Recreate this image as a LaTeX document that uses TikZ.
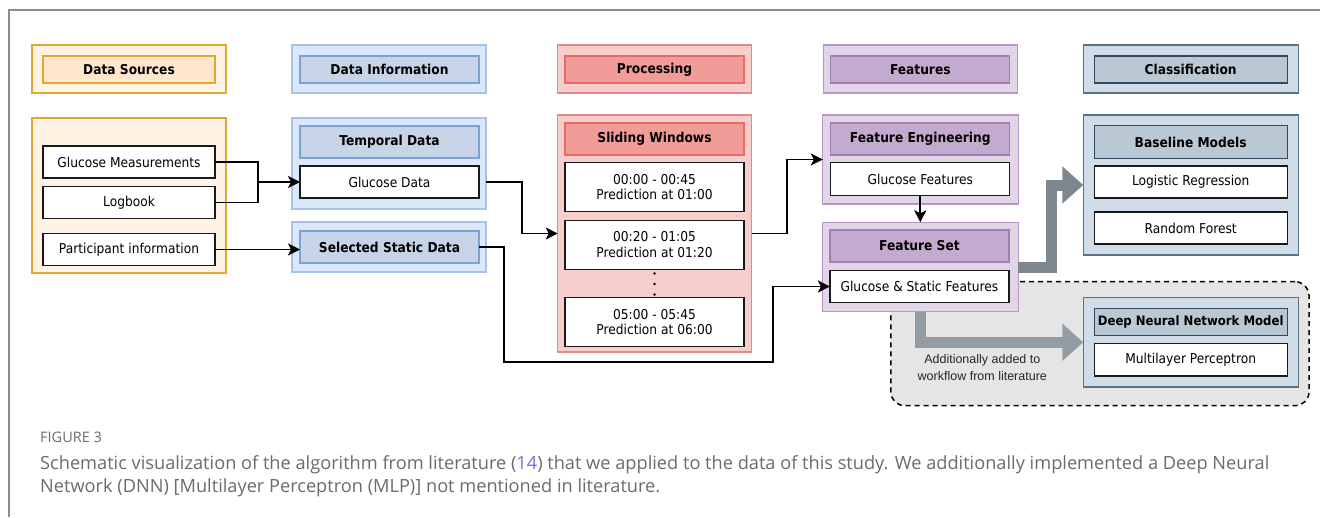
\documentclass[tikz,border=0pt]{standalone}
\usepackage{fontspec}
\setmainfont{DejaVu Sans}[FakeStretch=0.9]
\newfontfamily\labfont{Liberation Sans}
\newfontfamily\capfont{Open Sans}
\usetikzlibrary{arrows.meta}
\definecolor{orO}{HTML}{FFF3E6}\definecolor{orS}{HTML}{E3A62E}\definecolor{orI}{HTML}{FFE6CC}
\definecolor{blO}{HTML}{DAE8FC}\definecolor{blS}{HTML}{A7C1E8}\definecolor{blI}{HTML}{C7D3E7}\definecolor{blIS}{HTML}{7EA0D3}
\definecolor{rdO}{HTML}{F8CECC}\definecolor{rdS}{HTML}{E08A87}\definecolor{rdI}{HTML}{F19C99}\definecolor{rdIS}{HTML}{EA6B66}
\definecolor{puO}{HTML}{E1D5E7}\definecolor{puS}{HTML}{B598C6}\definecolor{puI}{HTML}{C3ABD0}\definecolor{puIS}{HTML}{A07FB3}
\definecolor{clO}{HTML}{D0DDE9}\definecolor{clS}{HTML}{5A7388}\definecolor{clI}{HTML}{BAC8D3}\definecolor{clIS}{HTML}{2F4A60}
\definecolor{gA}{HTML}{7F878E}\definecolor{gB}{HTML}{939CA3}
\definecolor{capgray}{HTML}{6B6B6B}\definecolor{linkc}{HTML}{7B6FD6}
\begin{document}
\begin{tikzpicture}[x=1pt,y=-1pt,
  font=\fontsize{13.6}{15.5}\selectfont,
  bx/.style={draw, line width=1.2pt, inner sep=0pt, outer sep=0pt, align=center},
  oO/.style={bx, fill=orO, draw=orS},
  oI/.style={bx, fill=orI, draw=orS},
  bO/.style={bx, fill=blO, draw=blS},
  bI/.style={bx, fill=blI, draw=blIS},
  rO/.style={bx, fill=rdO, draw=rdS},
  rI/.style={bx, fill=rdI, draw=rdIS},
  pO/.style={bx, fill=puO, draw=puS},
  pI/.style={bx, fill=puI, draw=puIS},
  cO/.style={bx, fill=clO, draw=clS},
  cI/.style={bx, fill=clI, draw=clIS},
  wb/.style={bx, fill=white, draw=black!90, line width=1.3pt},
  conn/.style={draw=black, line width=1.8pt},
  arr/.style={conn, -{Stealth[length=12pt,width=12pt,inset=3pt]}},
  garrA/.style={draw=gA, line width=11pt, line join=miter, -{Triangle[length=21pt,width=36pt]}},
  garrB/.style={draw=gB, line width=11pt, line join=miter, -{Triangle[length=21pt,width=36pt]}},
]
\useasboundingbox (0,0) rectangle (1320,517);
% frame
\draw[black!45, line width=2pt] (9,517) -- (9,10) -- (1320,10);

% ---------- Column 1: Data Sources
\node[oO, minimum width=194, minimum height=48] (c1h) at (129,69) {};
\node[oI, minimum width=172, minimum height=27] (c1ht) at (129,69.5) {\bfseries Data Sources};
\node[oO, minimum width=194, minimum height=155] (c1b) at (129,195.5) {};
\node[wb, minimum width=172, minimum height=32] (gm) at (129,162) {Glucose Measurements};
\node[wb, minimum width=172, minimum height=32] (lb) at (129,202.5) {Logbook};
\node[wb, minimum width=172, minimum height=32] (pi) at (129,249.5) {Participant information};

% ---------- Column 2: Data Information
\node[bO, minimum width=194, minimum height=48] (c2h) at (389,69) {};
\node[bI, minimum width=179, minimum height=27] (c2ht) at (389.5,69.5) {\bfseries Data Information};
\node[bO, minimum width=194, minimum height=91] (tb) at (389,163.5) {};
\node[bI, minimum width=179, minimum height=32] (tdh) at (389.5,142) {\bfseries Temporal Data};
\node[wb, minimum width=179, minimum height=32] (gd) at (389.5,182) {Glucose Data};
\node[bO, minimum width=194, minimum height=50] (sb) at (389,247) {};
\node[bI, minimum width=179, minimum height=32] (ssd) at (389.5,247) {\bfseries Selected Static Data};

% ---------- Column 3: Processing
\node[rO, minimum width=194, minimum height=48] (c3h) at (654.7,69) {};
\node[rI, minimum width=179, minimum height=27] (c3ht) at (654.5,69.5) {\bfseries Processing};
\node[rO, minimum width=194, minimum height=237] (proc) at (654.7,233.5) {};
\node[rI, minimum width=179, minimum height=32] (swh) at (654.5,139) {\bfseries Sliding Windows};
\node[wb, minimum width=179, minimum height=49] (w1) at (654.5,187) {00:00 - 00:45\\Prediction at 01:00};
\node[wb, minimum width=179, minimum height=49] (w2) at (654.5,244.7) {00:20 - 01:05\\Prediction at 01:20};
\node[wb, minimum width=179, minimum height=49] (w3) at (654.5,322) {05:00 - 05:45\\Prediction at 06:00};
\foreach \yy in {273.5,284,294.5} \fill (654.5,\yy) circle (1.4pt);

% ---------- Column 5: Classification
\node[cO, minimum width=215, minimum height=48] (c5h) at (1190.8,69) {};
\node[cI, minimum width=193, minimum height=27] (c5ht) at (1190.7,69.5) {\bfseries Classification};
\node[cO, minimum width=215, minimum height=140] (bm) at (1190.8,185) {};
\node[cI, minimum width=193, minimum height=32.6] (bmh) at (1190.7,142) {\bfseries Baseline Models};
\node[wb, minimum width=193, minimum height=32] (lr) at (1190.7,182) {Logistic Regression};
\node[wb, minimum width=193, minimum height=32] (rf) at (1190.7,228) {Random Forest};

% dashed region (behind Feature Set)
\node[draw=black, fill=black!10, line width=1.5pt, dash pattern=on 5pt off 4pt, rounded corners=14pt,
      inner sep=0pt, minimum width=418.3, minimum height=124] (dreg) at (1099.9,343.7) {};

\node[cO, minimum width=215, minimum height=89.3] (dnn) at (1190.8,342.3) {};
\node[cI, minimum width=193, minimum height=27, font=\fontsize{13}{15}\selectfont] (dnnh) at (1190.7,322) {\bfseries Deep Neural Network Model};
\node[wb, minimum width=193, minimum height=32.7] (mlp) at (1190.7,359.7) {Multilayer Perceptron};

% ---------- Column 4: Features
\node[pO, minimum width=194, minimum height=48] (c4h) at (920.3,69) {};
\node[pI, minimum width=179, minimum height=27] (c4ht) at (920.3,69.5) {\bfseries Features};
\node[pO, minimum width=196, minimum height=89] (fe) at (920.8,159.5) {};
\node[pI, minimum width=179, minimum height=32] (feh) at (920.3,139) {\bfseries Feature Engineering};
\node[wb, minimum width=179, minimum height=32.6] (gf) at (920.3,179) {Glucose Features};
\node[pO, minimum width=196, minimum height=89.4] (fs) at (920.3,267) {};
\node[pI, minimum width=179, minimum height=32] (fsh) at (919.4,246) {\bfseries Feature Set};
\node[wb, minimum width=179, minimum height=32] (gsf) at (919.4,286.5) {Glucose \& Static Features};

% gray arrows
\draw[garrA] (fs.east) -- ++(33,0) |- (bm.west);
\draw[garrB] (fs.south) |- (dnn.west);
\node[font=\labfont\fontsize{12.5}{16.5}\selectfont, align=center, text=black!85] (addl) at (982.3,367.5)
  {Additionally added to\\workflow from literature};

% ---------- black connectors
\coordinate (j1) at (257.7,182);
\draw[conn] (gm.east) -| (j1);
\draw[conn] (lb.east) -| (j1);
\draw[arr] (j1) -- (gd.west);
\draw[arr] (pi.east) -- (pi.east -| ssd.west);
\draw[arr] (gd.east -| tb.east) -- ++(35.7,0) |- (proc.west);
\draw[arr] (proc.east) -- ++(35,0) |- (fe.west);
\draw[arr] (gf.south) -- (fs.north);
\draw[arr] (ssd.east) -- ++(25,0) -- ++(0,115) -- ++(268.7,0) |- (gsf.west);

% ---------- caption
\node[anchor=base west, inner sep=0pt, font=\capfont\fontsize{14.5}{16}\selectfont, text=capgray] (figlab) at (40,442) {FIGURE 3};
\node[anchor=base west, inner sep=0pt, font=\capfont\fontsize{18.2}{23}\selectfont, text=capgray] (cap1) at (40,469)
  {Schematic visualization of the algorithm from literature ({\color{linkc}14}) that we applied to the data of this study. We additionally implemented a Deep Neural};
\node[anchor=base west, inner sep=0pt, font=\capfont\fontsize{18.2}{23}\selectfont, text=capgray] (cap2) at (40,492)
  {Network (DNN) [Multilayer Perceptron (MLP)] not mentioned in literature.};
\end{tikzpicture}
\end{document}
